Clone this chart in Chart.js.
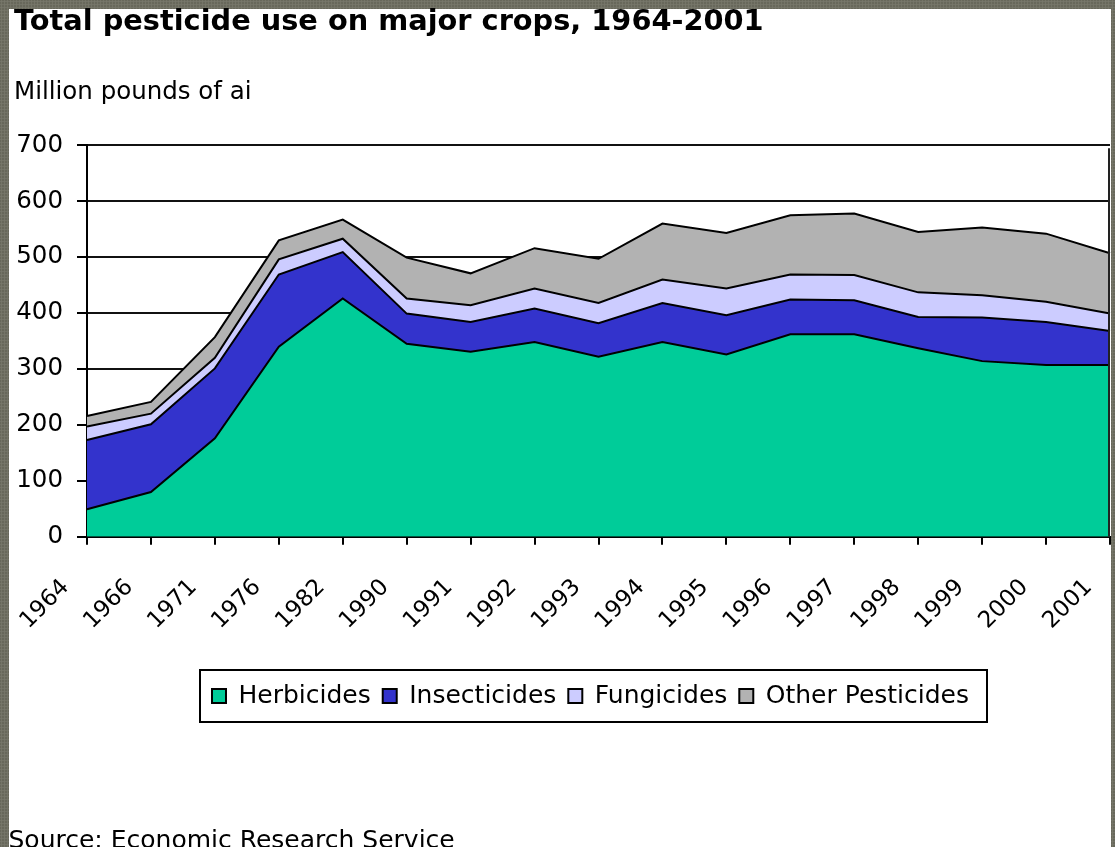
<!DOCTYPE html>
<html>
<head>
<meta charset="utf-8">
<title>Total pesticide use on major crops, 1964-2001</title>
<script src="https://cdn.jsdelivr.net/npm/chart.js@4.4.1/dist/chart.umd.min.js"></script>
<style>
  html, body { margin: 0; padding: 0; width: 1115px; height: 847px; overflow: hidden; }
  .frame {
    background-color: #68685b;
    background-image: radial-gradient(circle, #77776a 0.9px, transparent 1.3px);
    background-size: 3px 3px;
  }
  body { position: relative; }
  #panel { position: absolute; left: 9px; top: 9px; width: 1102px; height: 838px; background: #fff; }
  #wrap { position: absolute; left: 0; top: 0; width: 1115px; height: 847px; }
  #edge { position: absolute; left: 1111px; top: 0; width: 4px; height: 847px; }
</style>
</head>
<body class="frame">
<div id="panel"></div>
<div id="wrap"><canvas id="chart" width="1115" height="847"></canvas></div>
<div id="edge" class="frame"></div>
<script>
// Years on the category axis
const years = ['1964', '1966', '1971', '1976', '1982', '1990', '1991', '1992', '1993',
               '1994', '1995', '1996', '1997', '1998', '1999', '2000', '2001'];

// Million pounds of active ingredient, per pesticide class (stacked)
const herbicides      = [49, 80, 176, 340, 426, 345, 331, 348, 322, 348, 326, 362, 362, 337, 314, 307, 307];
const insecticides    = [124, 121, 125, 129, 83, 54, 53, 60, 60, 70, 70, 62, 61, 56, 78, 77, 61];
const fungicides      = [24, 19, 19, 27, 24, 27, 30, 36, 36, 42, 48, 45, 45, 44, 40, 36, 31];
const otherPesticides = [19, 21, 37, 34, 34, 73, 57, 72, 79, 100, 99, 106, 110, 108, 121, 122, 108];

// Value axis
const yMin = 0;
const yMax = 700;
const yStep = 100;

const titleText = 'Total pesticide use on major crops, 1964-2001';
const unitText = 'Million pounds of ai';
const sourceText = 'Source: Economic Research Service';

const FONT = '"DejaVu Sans", "Liberation Sans", sans-serif';

// Legend frame, right plot edge and the source line
const extras = {
  id: 'extras',
  afterLayout(chart) {
    chart.legend.left -= 8;
    chart.legend.right -= 8;
  },
  afterDraw(chart) {
    const ctx = chart.ctx;
    const boxes = chart.legend.legendHitBoxes;
    ctx.save();
    ctx.strokeStyle = '#000';
    ctx.lineWidth = 2;
    if (boxes && boxes.length) {
      const first = boxes[0];
      const last = boxes[boxes.length - 1];
      const mid = first.top + first.height / 2;
      const x0 = Math.round(first.left - 12);
      const x1 = Math.round(last.left + last.width + 18);
      ctx.strokeRect(x0, Math.round(mid - 26), x1 - x0, 52);
    }
    const a = chart.chartArea;
    ctx.strokeStyle = '#222';
    ctx.beginPath();
    ctx.moveTo(a.right - 1, a.top + 3);
    ctx.lineTo(a.right - 1, a.bottom);
    ctx.stroke();

    ctx.fillStyle = '#000';
    ctx.font = '25px ' + FONT;
    ctx.textAlign = 'left';
    ctx.textBaseline = 'alphabetic';
    ctx.fillText(sourceText, 8.5, 847.5);
    ctx.restore();
  }
};

function areaSet(label, data, color, fill) {
  return {
    label: label,
    data: data,
    backgroundColor: color,
    borderColor: '#000',
    borderWidth: 2,
    fill: fill,
    pointRadius: 0,
    pointHoverRadius: 0,
    tension: 0
  };
}

new Chart(document.getElementById('chart'), {
  type: 'line',
  data: {
    labels: years,
    datasets: [
      areaSet('Herbicides', herbicides, '#00CC99', 'origin'),
      areaSet('Insecticides', insecticides, '#3333CC', '-1'),
      areaSet('Fungicides', fungicides, '#CCCCFF', '-1'),
      areaSet('Other Pesticides', otherPesticides, '#B2B2B2', '-1')
    ]
  },
  options: {
    responsive: false,
    animation: false,
    devicePixelRatio: 1,
    layout: { padding: { left: 14, right: 5, top: 0, bottom: 128.5 } },
    plugins: {
      tooltip: { enabled: false },
      title: {
        display: true,
        text: titleText,
        align: 'start',
        color: '#000',
        font: { family: FONT, size: 28.8, weight: 'bold', lineHeight: 1 },
        padding: { top: 8, bottom: 43.15 }
      },
      subtitle: {
        display: true,
        text: unitText,
        align: 'start',
        color: '#000',
        font: { family: FONT, size: 24.5, weight: 'normal', lineHeight: 1 },
        padding: { top: 0, bottom: 40.85 }
      },
      legend: {
        display: true,
        position: 'bottom',
        fullSize: false,
        labels: {
          color: '#000',
          font: { family: FONT, size: 25 },
          boxWidth: 14,
          boxHeight: 14,
          padding: 12
        }
      }
    },
    scales: {
      x: {
        offset: false,
        grid: {
          display: true,
          drawOnChartArea: false,
          drawTicks: true,
          tickLength: 8,
          color: '#000',
          lineWidth: 2
        },
        border: { display: true, color: '#000', width: 2 },
        ticks: {
          autoSkip: false,
          minRotation: 45,
          maxRotation: 45,
          labelOffset: -21.4,
          padding: 29.2,
          color: '#000',
          font: { family: FONT, size: 23 }
        },
        afterFit(scale) {
          scale.height = 134.8;
          scale.paddingLeft = 0;
          scale.paddingRight = 0;
        }
      },
      y: {
        stacked: true,
        min: yMin,
        max: yMax,
        grid: {
          color: '#111',
          lineWidth: 2,
          drawTicks: true,
          tickLength: 10,
          tickColor: '#000'
        },
        border: { display: true, color: '#000', width: 2 },
        ticks: {
          stepSize: yStep,
          padding: 14,
          color: '#000',
          font: { family: FONT, size: 24.5 }
        },
        afterFit(scale) {
          scale.width = 73;
          scale.paddingTop = 0;
          scale.paddingBottom = 0;
        }
      }
    }
  },
  plugins: [extras]
});
</script>
</body>
</html>
